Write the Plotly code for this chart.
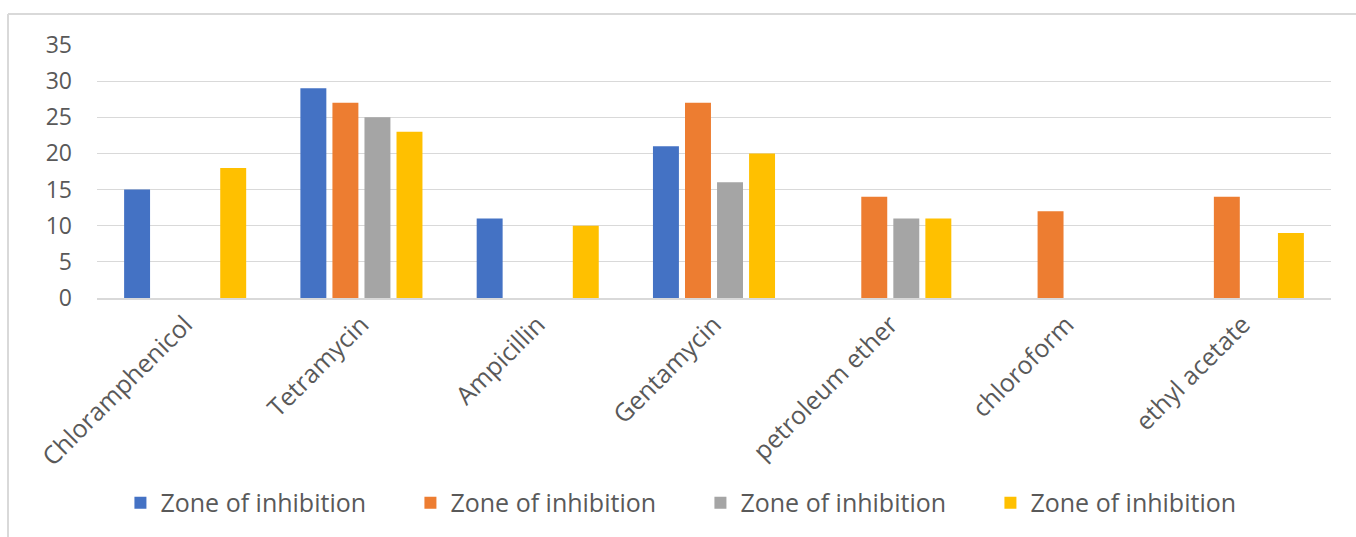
import plotly.graph_objects as go

categories = ["Chloramphenicol", "Tetramycin", "Ampicillin", "Gentamycin",
              "petroleum ether", "chloroform", "ethyl acetate"]
series_names = ["Zone of inhibition", "Zone of inhibition", "Zone of inhibition", "Zone of inhibition"]
s1 = [15, 29, 11, 21, 0, 0, 0]
s2 = [0, 27, 0, 27, 14, 12, 14]
s3 = [0, 25, 0, 16, 11, 0, 0]
s4 = [18, 23, 10, 20, 11, 0, 9]
colors = ["#4472C4", "#ED7D31", "#A5A5A5", "#FFC000"]
y_ticks = [0, 5, 10, 15, 20, 25, 30, 35]

fig = go.Figure()
for name, vals, c in zip(series_names, [s1, s2, s3, s4], colors):
    fig.add_trace(go.Bar(x=categories, y=vals, name=name, marker_color=c,
                         marker_line_width=0, showlegend=True))

W, H = 1356, 537
ml, mr, mt, mb = 97, 25, 45, 239
pw = W - ml - mr
ph = H - mt - mb

fig.update_layout(
    width=W, height=H,
    margin=dict(l=ml, r=mr, t=mt, b=mb, autoexpand=False),
    paper_bgcolor="white", plot_bgcolor="white",
    barmode="group", bargap=0.273, bargroupgap=0.19,
    font=dict(family="Open Sans", color="#595959", size=22),
    legend=dict(orientation="h", x=0.489, xanchor="center", y=-0.81, yanchor="middle",
                font=dict(family="Open Sans", size=25, color="#595959"),
                entrywidth=245, itemwidth=30, traceorder="normal"),
    xaxis=dict(tickangle=-45, showline=True, linecolor="#D9D9D9", linewidth=2,
               ticks="", automargin=False, tickfont=dict(size=25, color="#595959")),
    yaxis=dict(range=[0, 35], tickvals=y_ticks, showgrid=True, gridcolor="#D9D9D9",
               gridwidth=1, zeroline=False, ticks="", ticklabelstandoff=24, automargin=False,
               tickfont=dict(size=23, color="#595959")),
    shapes=[
        dict(type="line", xref="paper", yref="paper",
             x0=(8 - ml) / pw, x1=(W + 5 - ml) / pw,
             y0=(H - mb - 14) / ph, y1=(H - mb - 14) / ph,
             line=dict(color="#D9D9D9", width=2)),
        dict(type="line", xref="paper", yref="paper",
             x0=(8 - ml) / pw, x1=(8 - ml) / pw,
             y0=(H - mb - 14) / ph, y1=(H - mb - H - 5) / ph,
             line=dict(color="#D9D9D9", width=2)),
    ],
)

fig.write_html("out.html")
